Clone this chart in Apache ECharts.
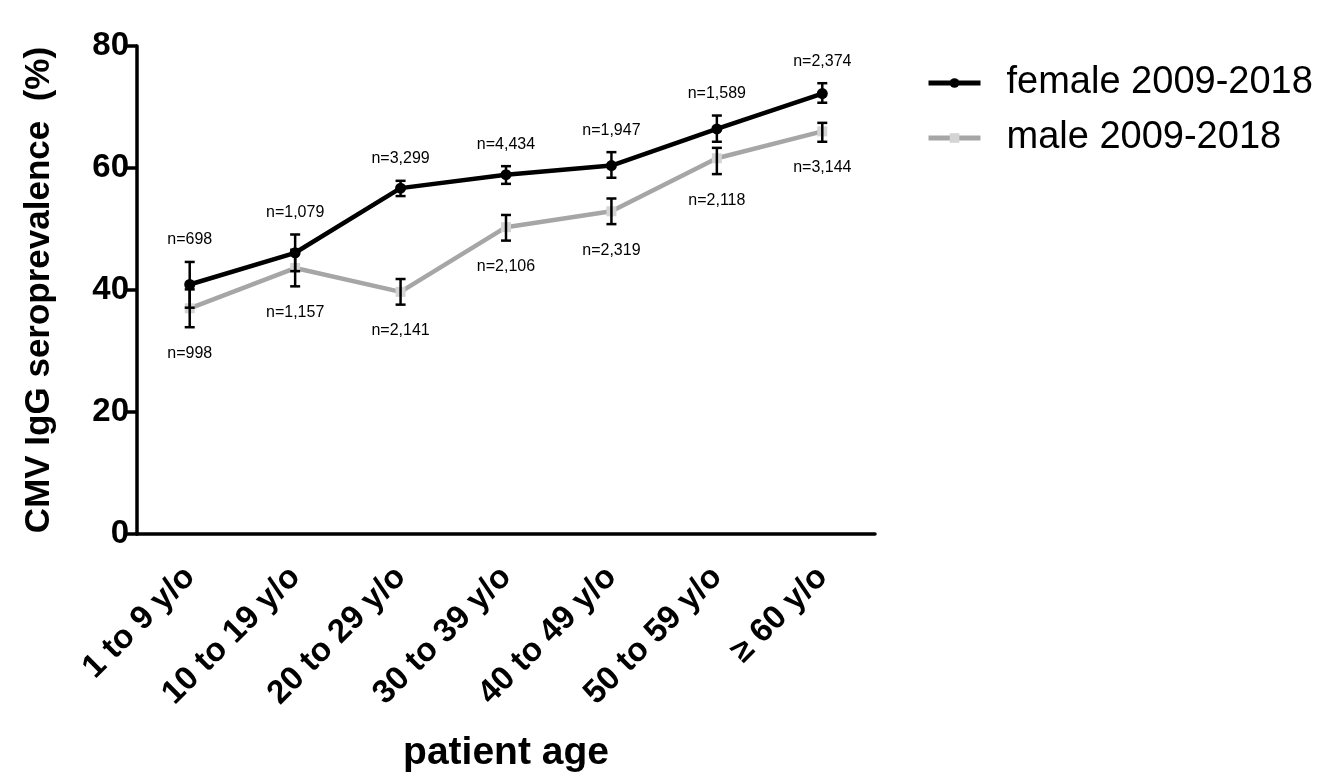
<!DOCTYPE html>
<html>
<head>
<meta charset="utf-8">
<script src="https://cdn.jsdelivr.net/npm/echarts@6/dist/echarts.min.js"></script>
<style>
html,body{margin:0;padding:0;background:#fff;}
#chart{width:1341px;height:777px;}
</style>
</head>
<body>
<div id="chart"></div>
<script>
// ---- data ----
var categories = ['1 to 9 y/o','10 to 19 y/o','20 to 29 y/o','30 to 39 y/o','40 to 49 y/o','50 to 59 y/o','\u2265 60 y/o'];
var yTicks = [0, 20, 40, 60, 80];
var female = [40.9, 46.1, 56.7, 58.9, 60.4, 66.4, 72.2];
var femaleLow = [37.1, 43.1, 55.4, 57.4, 58.4, 64.3, 70.7];
var femaleHigh = [44.6, 49.1, 57.9, 60.3, 62.6, 68.6, 73.9];
var femaleN = ['n=698','n=1,079','n=3,299','n=4,434','n=1,947','n=1,589','n=2,374'];
var male = [37.0, 43.6, 39.7, 50.3, 52.9, 61.6, 66.0];
var maleLow = [33.9, 40.6, 37.6, 48.1, 50.8, 59.0, 64.3];
var maleHigh = [40.1, 46.6, 41.8, 52.3, 55.0, 63.3, 67.4];
var maleN = ['n=998','n=1,157','n=2,141','n=2,106','n=2,319','n=2,118','n=3,144'];

var FONT = "'Liberation Sans', Arial, sans-serif";

function errData(low, high) {
  return categories.map(function (c, i) { return [i, low[i], high[i]]; });
}

function makeErrRender(labels, above) {
  return function (params, api) {
    var i = api.value(0);
    var lo = api.coord([i, api.value(1)]);
    var hi = api.coord([i, api.value(2)]);
    var x = lo[0];
    var cw = 5;
    var st = { stroke: '#000', lineWidth: 2.5 };
    var children = [
      { type: 'line', shape: { x1: x, y1: hi[1], x2: x, y2: lo[1] }, style: st },
      { type: 'line', shape: { x1: x - cw, y1: hi[1], x2: x + cw, y2: hi[1] }, style: st },
      { type: 'line', shape: { x1: x - cw, y1: lo[1], x2: x + cw, y2: lo[1] }, style: st },
      { type: 'text', x: x, y: above ? hi[1] - 22 : lo[1] + 26,
        style: { text: labels[params.dataIndex], fill: '#000', font: '16px ' + FONT,
                 align: 'center', verticalAlign: 'middle' } }
    ];
    return { type: 'group', children: children };
  };
}

var chart = echarts.init(document.getElementById('chart'));
chart.setOption({
  animation: false,
  backgroundColor: '#fff',
  grid: { left: 137, right: 466, top: 46, bottom: 243, containLabel: false, outerBoundsMode: 'none' },
  legend: {
    left: 921, top: 58, orient: 'vertical',
    itemWidth: 52, itemHeight: 12, itemGap: 15,
    data: ['female 2009-2018', 'male 2009-2018'],
    lineStyle: { width: 5 },
    textStyle: { fontFamily: FONT, fontSize: 38, color: '#000', padding: [0, 0, 0, 21], lineHeight: 40 }
  },
  xAxis: {
    type: 'category', data: categories, boundaryGap: true,
    name: 'patient age', nameLocation: 'middle', nameGap: 200,
    nameTextStyle: { fontFamily: FONT, fontSize: 39, fontWeight: 'bold', color: '#000' },
    axisLine: { lineStyle: { color: '#000', width: 3.5 } },
    axisTick: { alignWithLabel: true, length: 11, lineStyle: { color: '#000', width: 3.5 } },
    axisLabel: { rotate: 45, margin: 38, fontFamily: FONT, fontSize: 33, fontWeight: 'bold', color: '#000', interval: 0 },
    splitLine: { show: false }
  },
  yAxis: {
    type: 'value', min: 0, max: 80, interval: 20,
    name: 'CMV IgG seroprevalence  (%)', nameLocation: 'middle', nameGap: 80,
    nameTextStyle: { fontFamily: FONT, fontSize: 35, fontWeight: 'bold', color: '#000' },
    axisLine: { show: true, lineStyle: { color: '#000', width: 3.5 } },
    axisTick: { show: true, length: 11, lineStyle: { color: '#000', width: 3.5 } },
    axisLabel: { margin: 8, fontFamily: FONT, fontSize: 33, fontWeight: 'bold', color: '#000',
                 formatter: function (v) { return yTicks.indexOf(v) >= 0 ? String(v) : ''; } },
    splitLine: { show: false }
  },
  series: [
    {
      name: 'male 2009-2018', type: 'line', data: male, z: 2,
      symbol: 'rect', symbolSize: 10,
      lineStyle: { color: '#a6a6a6', width: 4.5 },
      itemStyle: { color: '#d4d4d4', borderWidth: 0 }
    },
    {
      name: 'female 2009-2018', type: 'line', data: female, z: 3,
      symbol: 'circle', symbolSize: 11,
      lineStyle: { color: '#000', width: 4.5 },
      itemStyle: { color: '#000', borderWidth: 0 }
    },
    {
      name: 'maleErr', type: 'custom', data: errData(maleLow, maleHigh), z: 4,
      renderItem: makeErrRender(maleN, false), encode: { x: 0, y: [1, 2] }, silent: true
    },
    {
      name: 'femaleErr', type: 'custom', data: errData(femaleLow, femaleHigh), z: 5,
      renderItem: makeErrRender(femaleN, true), encode: { x: 0, y: [1, 2] }, silent: true
    }
  ]
});
</script>
</body>
</html>
